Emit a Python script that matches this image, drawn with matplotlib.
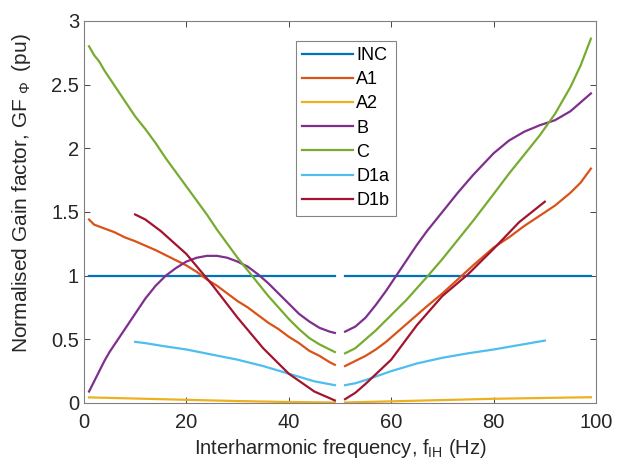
import matplotlib.pyplot as plt

plt.rcParams['font.family'] = ['Liberation Sans', 'DejaVu Sans']
plt.rcParams['mathtext.fontset'] = 'custom'
plt.rcParams['mathtext.rm'] = 'Liberation Sans'
plt.rcParams['mathtext.it'] = 'Liberation Sans'

# frequencies (Hz) below and above 50 Hz
x_lo = [1, 2, 3, 4, 5, 6, 8, 10, 12, 14, 16, 18, 20, 22, 24, 26, 28, 30,
        32, 34, 36, 38, 40, 42, 44, 46, 48, 49]
x_hi = [51, 53, 55, 57, 59, 61, 63, 65, 67, 70, 73, 76, 80, 83, 86, 89, 92, 95, 97, 99]
xd_lo = [10, 12, 15, 20, 25, 30, 35, 40, 45, 49]
xd_hi = [51, 53, 55, 60, 65, 70, 75, 80, 85, 90]

inc_lo = [1.0] * len(x_lo)
inc_hi = [1.0] * len(x_hi)

a1_lo = [1.44, 1.40, 1.385, 1.37, 1.355, 1.34, 1.30, 1.27, 1.235, 1.20, 1.16, 1.12, 1.08, 1.03,
         0.97, 0.92, 0.86, 0.80, 0.75, 0.69, 0.63, 0.58, 0.52, 0.47, 0.41, 0.37, 0.32, 0.30]
a1_hi = [0.29, 0.33, 0.37, 0.42, 0.48, 0.55, 0.62, 0.69, 0.76, 0.86, 0.97, 1.08, 1.22, 1.30,
         1.39, 1.47, 1.55, 1.65, 1.73, 1.84]

a2_lo = [0.044, 0.043, 0.042, 0.041, 0.040, 0.039, 0.037, 0.035, 0.033, 0.031, 0.029, 0.027,
         0.025, 0.023, 0.021, 0.019, 0.017, 0.015, 0.014, 0.012, 0.011, 0.009, 0.008, 0.007,
         0.006, 0.005, 0.004, 0.004]
a2_hi = [0.004, 0.006, 0.008, 0.010, 0.012, 0.014, 0.016, 0.018, 0.020, 0.023, 0.026, 0.029,
         0.033, 0.035, 0.037, 0.039, 0.041, 0.043, 0.044, 0.045]

b_lo = [0.09, 0.17, 0.25, 0.33, 0.40, 0.46, 0.58, 0.70, 0.82, 0.92, 1.00, 1.06, 1.11, 1.14,
        1.155, 1.155, 1.14, 1.11, 1.07, 1.01, 0.94, 0.86, 0.78, 0.70, 0.64, 0.59, 0.56, 0.55]
b_hi = [0.56, 0.60, 0.67, 0.77, 0.88, 1.00, 1.12, 1.24, 1.35, 1.50, 1.65, 1.79, 1.96, 2.06,
        2.13, 2.18, 2.22, 2.29, 2.36, 2.43]

c_lo = [2.80, 2.73, 2.68, 2.61, 2.55, 2.49, 2.37, 2.25, 2.15, 2.04, 1.92, 1.81, 1.70, 1.59,
        1.48, 1.36, 1.25, 1.14, 1.04, 0.94, 0.84, 0.75, 0.66, 0.58, 0.51, 0.46, 0.42, 0.40]
c_hi = [0.39, 0.43, 0.50, 0.57, 0.65, 0.73, 0.81, 0.90, 0.99, 1.13, 1.28, 1.43, 1.64, 1.80,
        1.95, 2.10, 2.27, 2.48, 2.65, 2.86]

d1a_lo = [0.48, 0.47, 0.45, 0.42, 0.38, 0.34, 0.29, 0.23, 0.17, 0.14]
d1a_hi = [0.14, 0.155, 0.18, 0.25, 0.31, 0.355, 0.39, 0.42, 0.455, 0.49]

d1b_lo = [1.48, 1.44, 1.35, 1.17, 0.93, 0.67, 0.43, 0.23, 0.09, 0.02]
d1b_hi = [0.03, 0.08, 0.15, 0.34, 0.61, 0.84, 1.01, 1.21, 1.42, 1.58]

series = [
    ('INC', x_lo, inc_lo, x_hi, inc_hi, '#0072BD'),
    ('A1', x_lo, a1_lo, x_hi, a1_hi, '#D95319'),
    ('A2', x_lo, a2_lo, x_hi, a2_hi, '#EDB120'),
    ('B', x_lo, b_lo, x_hi, b_hi, '#7E2F8E'),
    ('C', x_lo, c_lo, x_hi, c_hi, '#77AC30'),
    ('D1a', xd_lo, d1a_lo, xd_hi, d1a_hi, '#4DBEEE'),
    ('D1b', xd_lo, d1b_lo, xd_hi, d1b_hi, '#A2142F'),
]

fig = plt.figure(figsize=(6.17, 4.73), dpi=100)
ax = fig.add_axes([0.136, 0.148, 0.830, 0.808])

for name, xl, yl, xh, yh, col in series:
    ax.plot(xl, yl, color=col, linewidth=1.6, label=name)
    ax.plot(xh, yh, color=col, linewidth=1.6)

ax.set_xlim(0, 100)
ax.set_ylim(0, 3)
ax.set_xticks([0, 20, 40, 60, 80, 100])
ax.set_yticks([0, 0.5, 1, 1.5, 2, 2.5, 3])
ax.set_yticklabels(['0', '0.5', '1', '1.5', '2', '2.5', '3'])
ax.tick_params(direction='in', top=True, right=True, length=4,
               labelsize=14.5, colors='0.15', width=0.6)
ax.tick_params(axis='x', pad=7)
for s in ax.spines.values():
    s.set_color('0.5')
    s.set_linewidth(0.8)

ax.set_xlabel('Interharmonic frequency, f$_{\\mathrm{IH}}$ (Hz)', fontsize=14.5,
              color='0.15', labelpad=4)
ax.set_ylabel('Normalised Gain factor, GF$\\;_{\\Phi}\\;$ (pu)', fontsize=15,
              color='0.15')
ax.yaxis.set_label_coords(-0.1, 0.55)

leg = ax.legend(loc='upper left', bbox_to_anchor=(0.396, 0.972), fontsize=13,
                fancybox=False, edgecolor='0.4', handlelength=2.8,
                handletextpad=0.2, labelspacing=0.4, borderpad=0.35)
leg.get_frame().set_linewidth(0.8)

plt.savefig('out.png', dpi=100)
